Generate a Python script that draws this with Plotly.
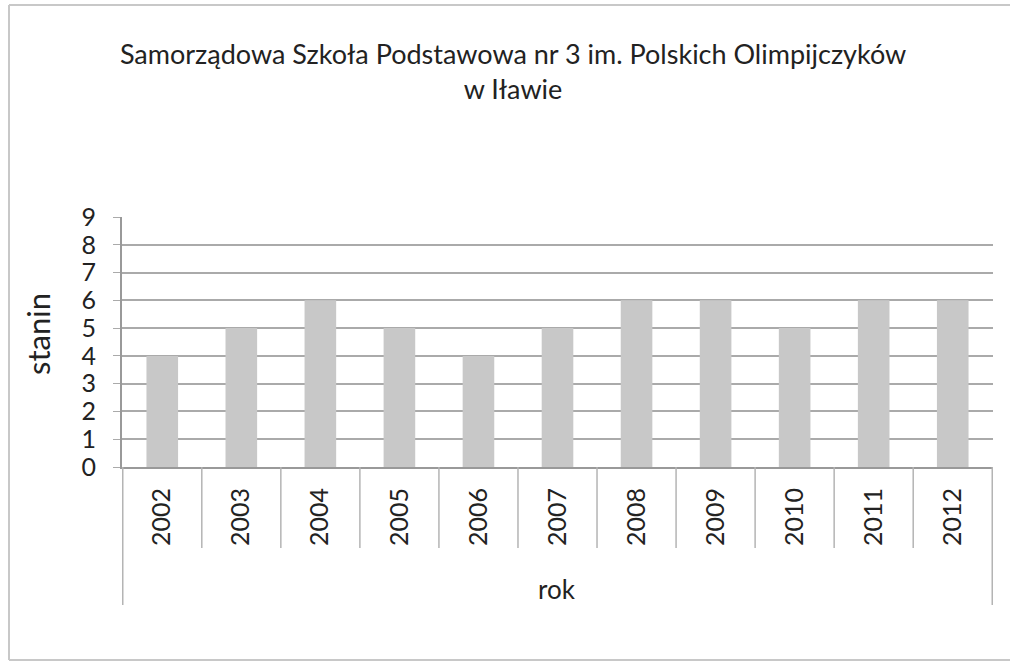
import plotly.graph_objects as go

years = ["2002", "2003", "2004", "2005", "2006", "2007", "2008", "2009", "2010", "2011", "2012"]
stanin = [4, 5, 6, 5, 4, 5, 6, 6, 5, 6, 6]
y_ticks = list(range(0, 10))

title_text = "Samorządowa Szkoła Podstawowa nr 3 im. Polskich Olimpijczyków<br>w Iławie"
y_title = "stanin"
x_title = "rok"

FONT = "Lato"
W, H = 1010, 664
L, R, T, B = 122, 17, 217, 197

fig = go.Figure(go.Bar(
    x=years, y=stanin,
    marker=dict(color="#c8c8c8", line=dict(width=0)),
    width=0.4,
))

pw = W - L - R
ph = H - T - B

def py(pix):
    return (H - B - pix) / ph

def px(pix):
    return (pix - L) / pw

shapes = []
n = len(years)
for i in range(n + 1):
    outer = i == 0 or i == n
    shapes.append(dict(type="line", xref="x", yref="paper",
                       x0=i - 0.5, x1=i - 0.5, y0=0, y1=py(605) if outer else py(548),
                       line=dict(color="#b4b4b4", width=1.5)))
border = dict(color="#c8c8c8", width=2)
shapes += [
    dict(type="line", xref="paper", yref="paper", x0=px(9), x1=px(9), y0=py(660), y1=py(5), line=border, layer="below"),
    dict(type="line", xref="paper", yref="paper", x0=px(9), x1=px(1010), y0=py(5), y1=py(5), line=border, layer="below"),
    dict(type="line", xref="paper", yref="paper", x0=px(9), x1=px(1010), y0=py(660), y1=py(660), line=border, layer="below"),
]

fig.update_layout(
    width=W, height=H,
    margin=dict(l=L, r=R, t=T, b=B),
    paper_bgcolor="white", plot_bgcolor="white",
    showlegend=False,
    font=dict(family=FONT, color="#222"),
    title=dict(text=title_text, x=0.508, xanchor="center", xref="container",
               y=1 - 64 / H, yanchor="middle", yref="container",
               font=dict(family=FONT, size=27, color="#222")),
    shapes=shapes,
    bargap=0.6,
    annotations=[
        dict(text=y_title, xref="paper", yref="paper", x=px(38), y=py(334),
             textangle=-90, showarrow=False, font=dict(size=31, family=FONT, color="#222"),
             xanchor="center", yanchor="middle"),
        dict(text=x_title, xref="paper", yref="paper", x=px(557), y=py(589),
             showarrow=False, font=dict(size=26, family=FONT, color="#222"),
             xanchor="center", yanchor="middle"),
    ],
)
fig.update_yaxes(
    range=[0, 9], tickvals=y_ticks, showgrid=True, gridcolor="#aaaaaa", gridwidth=1.5,
    ticks="outside", ticklen=7, tickcolor="#aaaaaa",
    showline=True, linecolor="#999999", linewidth=2,
    ticklabelstandoff=12,
    tickfont=dict(size=25, family=FONT, color="#222"), zeroline=False,
)
fig.update_xaxes(
    type="category", tickangle=-90, showgrid=False,
    showline=True, linecolor="#999999", linewidth=2,
    ticks="", ticklabelstandoff=9,
    tickfont=dict(size=25, family=FONT, color="#222"),
)

fig.write_html("out.html", post_script="document.body.style.margin='0';",
               config={"displayModeBar": False})
